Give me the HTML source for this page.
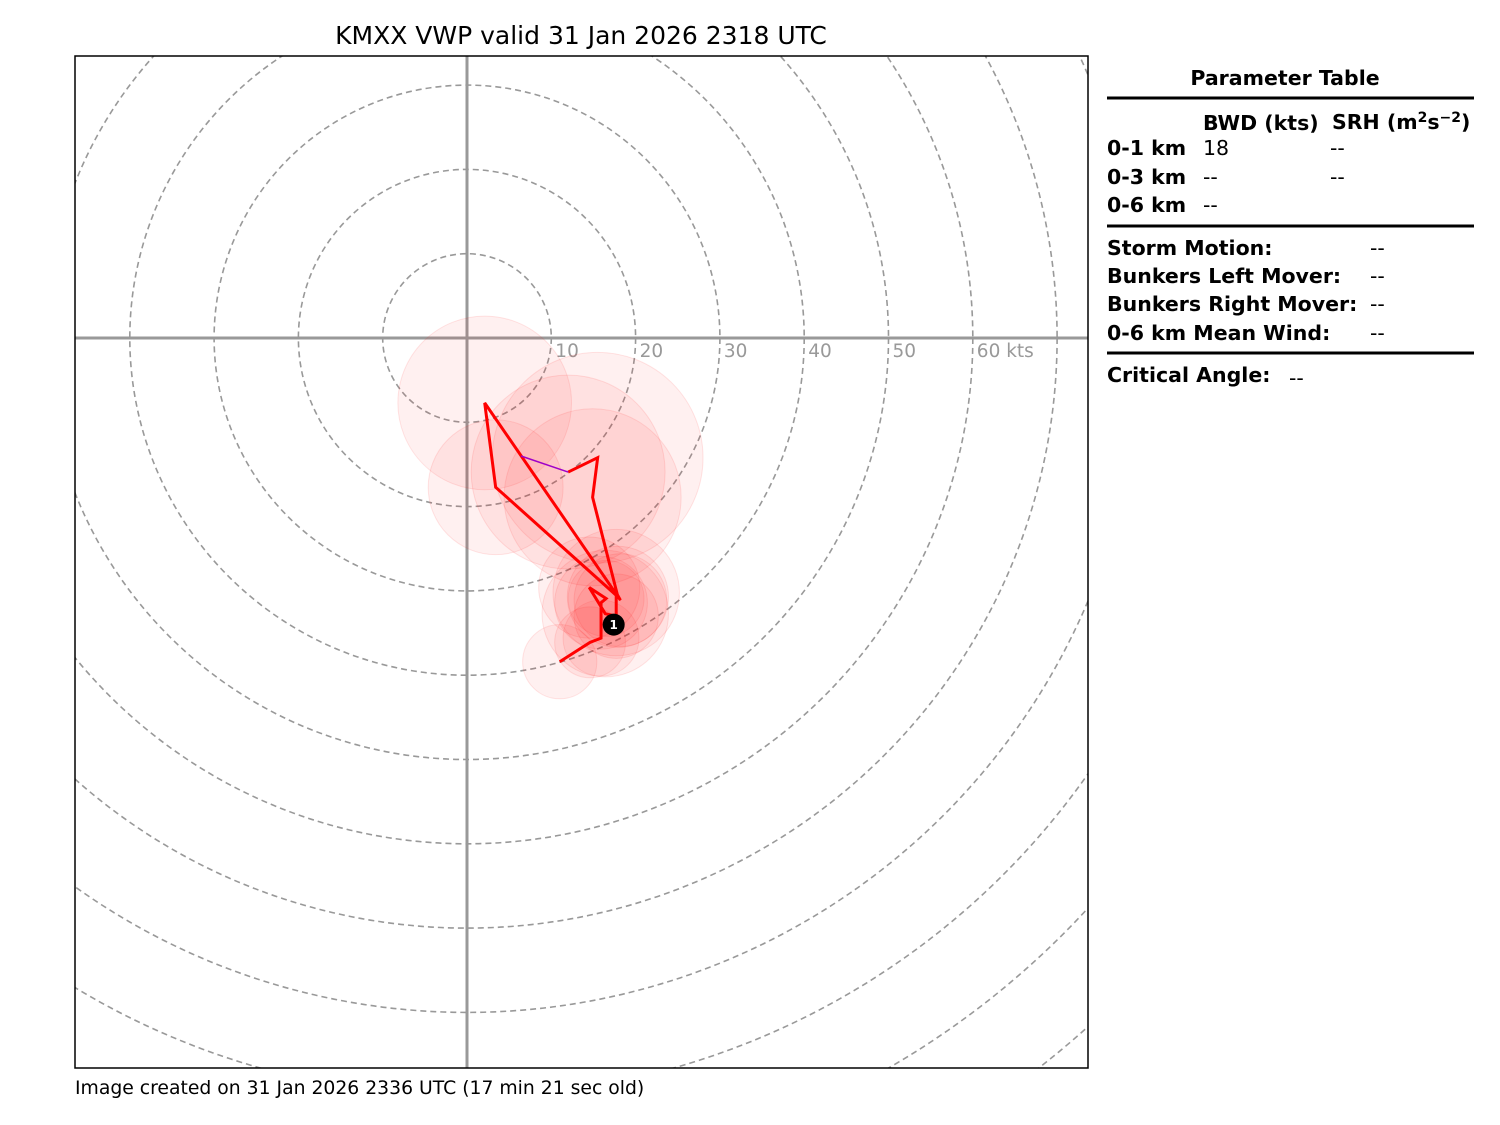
<!DOCTYPE html>
<html><head><meta charset="utf-8"><style>
html,body{margin:0;padding:0;background:#fff;overflow:hidden;width:1500px;height:1125px;}
svg{display:block;font-family:"DejaVu Sans","Liberation Sans",sans-serif;}
</style></head><body>
<svg id="svg" width="1500" height="1125" viewBox="0 0 1500 1125" xmlns="http://www.w3.org/2000/svg">
<defs><clipPath id="clip"><rect x="75" y="56" width="1013" height="1012"/></clipPath></defs>
<text x="581" y="44" font-size="25" text-anchor="middle" fill="#000">KMXX VWP valid 31 Jan 2026 2318 UTC</text>
<g id="plot" clip-path="url(#clip)"></g>
<rect x="75" y="56" width="1013" height="1012" fill="none" stroke="#000" stroke-width="1.5"/>
<text x="75" y="1094" font-size="18.8" fill="#000">Image created on 31 Jan 2026 2336 UTC (17 min 21 sec old)</text>
<g font-size="20.5" fill="#000">
<text x="1285" y="85" text-anchor="middle" font-weight="bold">Parameter Table</text>
<line x1="1107" y1="98" x2="1474" y2="98" stroke="#000" stroke-width="3"/>
<text x="1203" y="130" font-weight="bold">BWD (kts)</text>
<text x="1332" y="129" font-weight="bold">SRH (m<tspan font-size="14" dy="-7">2</tspan><tspan dy="7">s</tspan><tspan font-size="14" dy="-7">−2</tspan><tspan dy="7">)</tspan></text>
<text x="1107" y="155" font-weight="bold">0-1 km</text>
<text x="1203" y="155">18</text>
<text x="1330" y="155">--</text>
<text x="1107" y="184" font-weight="bold">0-3 km</text>
<text x="1203" y="184">--</text>
<text x="1330" y="184">--</text>
<text x="1107" y="212" font-weight="bold">0-6 km</text>
<text x="1203" y="212">--</text>
<line x1="1107" y1="226" x2="1474" y2="226" stroke="#000" stroke-width="3"/>
<text x="1107" y="255" font-weight="bold">Storm Motion:</text>
<text x="1370" y="255">--</text>
<text x="1107" y="283" font-weight="bold">Bunkers Left Mover:</text>
<text x="1370" y="283">--</text>
<text x="1107" y="311" font-weight="bold">Bunkers Right Mover:</text>
<text x="1370" y="311">--</text>
<text x="1107" y="340" font-weight="bold">0-6 km Mean Wind:</text>
<text x="1370" y="340">--</text>
<line x1="1107" y1="353" x2="1474" y2="353" stroke="#000" stroke-width="3"/>
<text x="1107" y="382" font-weight="bold">Critical Angle:</text>
<text x="1289" y="385">--</text>
</g>
</svg>
<script>
const ringKts = [10,20,30,40,50,60,70,80,90,100,110,120];
const ringLabels = ["10","20","30","40","50","60 kts"];
const uKts = [11.0,14.6,15.9,15.9,16.5,14.5,16.4,17.7,17.7,18.2,2.1,3.4,17.9,14.9,15.5,12.0];
const vKts = [-38.4,-36.1,-35.6,-31.4,-30.9,-29.6,-32.7,-33.0,-30.2,-31.1,-7.7,-17.7,-30.7,-18.9,-14.2,-15.9];
const errKts = [4.4,4.2,4.5,5.5,4.5,6.0,7.5,5.0,7.5,5.5,10.3,8.0,6.0,10.5,12.5,11.5];
const purpleU = [6.4,12.0];
const purpleV = [-14.0,-15.9];
const marker1 = [17.4,-34.0];

const ox=467, oy=338, s=8.43;
const X=u=>ox+u*s, Y=v=>oy-v*s;
const NS="http://www.w3.org/2000/svg";
const g=document.getElementById('plot');
function mk(t,a){const e=document.createElementNS(NS,t);for(const k in a)e.setAttribute(k,a[k]);g.appendChild(e);return e;}
ringKts.forEach((k,i)=>{
  const c=mk('circle',{cx:ox,cy:oy,r:k*s,fill:'none',stroke:'#999','stroke-width':1.6,'stroke-dasharray':'6,4'});
  
  
});
let l=mk('line',{x1:75,y1:oy,x2:1088,y2:oy,stroke:'#999','stroke-width':3});


l=mk('line',{x1:ox,y1:56,x2:ox,y2:1068,stroke:'#999','stroke-width':3});


ringLabels.forEach((t,i)=>{
  const e=mk('text',{x:X(ringKts[i])+4,y:oy+19,'font-size':18.5,fill:'#999'});
  e.textContent=t;
  
  
});
uKts.forEach((u,i)=>{
  const c=mk('circle',{cx:X(u),cy:Y(vKts[i]),r:errKts[i]*s,fill:'rgba(255,0,0,0.06)',stroke:'rgba(255,0,0,0.1)','stroke-width':1});
  
  
});
const p=mk('polyline',{points:uKts.map((u,i)=>X(u)+','+Y(vKts[i])).join(' '),fill:'none',stroke:'#ff0000','stroke-width':3,'stroke-linejoin':'miter'});


const pl=mk('line',{x1:X(purpleU[0]),y1:Y(purpleV[0]),x2:X(purpleU[1]),y2:Y(purpleV[1]),stroke:'#a000c8','stroke-width':1.5});


const m=mk('circle',{cx:X(marker1[0]),cy:Y(marker1[1]),r:11,fill:'#000'});


const mt=mk('text',{x:X(marker1[0]),y:Y(marker1[1])+4.5,'font-size':12,'font-weight':'bold',fill:'#fff','text-anchor':'middle'});
mt.textContent='1';


</script>
</body></html>
